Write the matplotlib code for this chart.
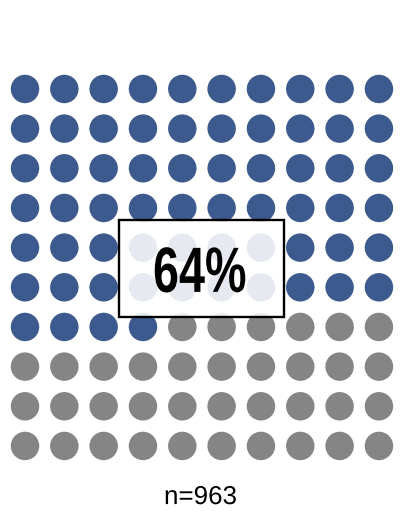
"""Waffle-style dot grid: share of respondents, 10x10 dots."""
import matplotlib
matplotlib.use("Agg")
import matplotlib.pyplot as plt
from matplotlib.patches import Rectangle, PathPatch
from matplotlib.textpath import TextPath
from matplotlib.font_manager import FontProperties
from matplotlib.transforms import Affine2D
import numpy as np

# data
pct_yes = 64
n_total = 963
n_rows = 10
n_cols = 10

blue = "#3d5a8e"
grey = "#858585"

plt.rcParams["font.family"] = ["Liberation Sans", "DejaVu Sans"]

# row-major fill from top-left
idx = np.arange(n_rows * n_cols)
cols = idx % n_cols
rows = idx // n_cols
colors = np.where(idx < pct_yes, blue, grey)

fig = plt.figure(figsize=(4.10, 5.11), dpi=100)
ax = fig.add_axes([0, 0, 1, 1])
ax.scatter(cols, rows, s=420, c=colors, marker="o", linewidths=0, zorder=2)
ax.set_xlim(-0.636, 9.79)
ax.set_ylim(10.64, -2.243)
ax.axis("off")


def squeezed_text(s, x, y, size_px, squeeze, weight="normal", z=5):
    # condensed look (the original uses an Arial Narrow style face)
    tp = TextPath((0, 0), s, size=size_px, prop=FontProperties(family="Liberation Sans", weight=weight))
    ext = tp.get_extents()
    cx, cy = ax.transData.transform((x, y))
    tr = (Affine2D()
          .translate(-(ext.x0 + ext.x1) / 2, -(ext.y0 + ext.y1) / 2)
          .scale(squeeze, 1)
          .translate(cx, cy))
    ax.add_patch(PathPatch(tp, facecolor="black", edgecolor="none",
                           transform=tr, zorder=z))


# label box over the middle of the grid
ax.add_patch(Rectangle((2.39, 3.30), 4.19, 2.45, facecolor="white", alpha=0.88,
                       edgecolor="none", zorder=3))
ax.add_patch(Rectangle((2.39, 3.30), 4.19, 2.45, facecolor="none",
                       edgecolor="black", linewidth=1.7, zorder=4))
squeezed_text(f"{pct_yes}%", 4.45, 4.56, 64, 0.73, weight="bold")

squeezed_text(f"n={n_total}", 4.47, 10.24, 26, 1.0)

fig.savefig("out.png", dpi=100, facecolor="white")
